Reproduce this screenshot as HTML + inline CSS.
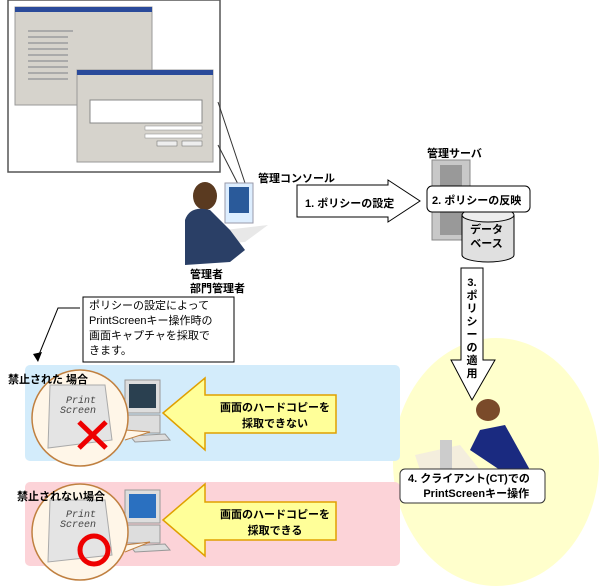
<!DOCTYPE html>
<html><head><meta charset="utf-8"><style>
body{margin:0;width:600px;height:586px;background:#fff;position:relative;overflow:hidden;font-family:"Liberation Sans","Noto Sans CJK JP",sans-serif;}
.a{position:absolute;white-space:nowrap}
.b{font-weight:bold;font-size:11px;color:#000}
</style></head><body>
<svg class="a" style="left:0;top:0" width="600" height="586">
<ellipse cx="496" cy="462" rx="103" ry="124" fill="#ffffcc"/>
<rect x="25" y="365" width="375" height="96" rx="5" fill="#d3ecfb"/>
<rect x="25" y="482" width="375" height="84" rx="5" fill="#fcd3d8"/>
<rect x="8" y="0" width="212" height="172" fill="#fff" stroke="#555" stroke-width="1.5"/>
<rect x="15" y="7" width="137" height="98" fill="#d6d3cc" stroke="#999"/>
<rect x="15" y="7" width="137" height="5" fill="#2a4a9a"/>
<g fill="#aaa"><rect x="28" y="30" width="45" height="2"/><rect x="28" y="36" width="40" height="2"/><rect x="28" y="42" width="40" height="2"/><rect x="28" y="48" width="40" height="2"/><rect x="28" y="54" width="40" height="2"/><rect x="28" y="60" width="40" height="2"/><rect x="28" y="66" width="40" height="2"/><rect x="28" y="72" width="40" height="2"/><rect x="28" y="78" width="40" height="2"/></g>
<rect x="77" y="70" width="136" height="92" fill="#d6d3cc" stroke="#999"/>
<rect x="77" y="70" width="136" height="5" fill="#2a4a9a"/>
<rect x="90" y="100" width="112" height="23" fill="#fff" stroke="#888"/>
<rect x="145" y="126" width="57" height="4" fill="#fff" stroke="#888" stroke-width=".5"/>
<rect x="145" y="134" width="57" height="4" fill="#fff" stroke="#888" stroke-width=".5"/>
<rect x="157" y="141" width="20" height="5" fill="#eee" stroke="#666" stroke-width=".5"/>
<rect x="182" y="141" width="20" height="5" fill="#eee" stroke="#666" stroke-width=".5"/>
<line x1="218" y1="102" x2="246" y2="186" stroke="#333"/>
<line x1="218" y1="145" x2="240" y2="188" stroke="#333"/>
<rect x="225" y="183" width="28" height="40" fill="#ddeeff" stroke="#99a"/>
<rect x="229" y="187" width="20" height="26" fill="#2a5a9a"/>
<polygon points="225,230 268,225 245,242 205,245" fill="#e8e8e8"/>
<ellipse cx="205" cy="196" rx="12" ry="14" fill="#5a3a20"/>
<path d="M185 265 L185 220 Q190 205 210 210 L230 230 L245 250 L230 262 Z" fill="#2a3f66"/>
<rect x="83" y="297" width="151" height="65" fill="#fff" stroke="#000"/>
<polyline points="80,308 58,308 38,357" fill="none" stroke="#000"/>
<polygon points="33,354 38,362 42,352" fill="#000"/>
<polygon points="297,185 388,185 388,180 420,201 388,222 388,217 297,217" fill="#fff" stroke="#000"/>
<rect x="432" y="160" width="38" height="80" fill="#c8c8c8" stroke="#888"/>
<rect x="440" y="165" width="22" height="70" fill="#999"/>
<path d="M462 215 L462 255 A26 7 0 0 0 514 255 L514 215 Z" fill="#e0e0e0" stroke="#000"/>
<ellipse cx="488" cy="215" rx="26" ry="7" fill="#eee" stroke="#000"/>
<rect x="427" y="186" width="103" height="26" rx="5" fill="#fff" stroke="#000"/>
<polygon points="461,268 483,268 483,360 495,360 472,400 451,360 461,360" fill="#fff" stroke="#000"/>
<polygon points="415,455 460,445 480,470 420,470" fill="#f4eedd"/>
<rect x="440" y="440" width="12" height="30" fill="#ccc"/>
<ellipse cx="488" cy="410" rx="12" ry="11" fill="#7a4a2a"/>
<path d="M480 430 L505 425 L530 470 L500 470 L470 450 Z" fill="#1a2a80"/>
<polygon points="163,413 205,378 205,395 336,395 336,433 205,433 205,450" fill="#ffff99" stroke="#e0a000" stroke-width="1.5"/>
<polygon points="163,520 205,484 205,502 336,502 336,540 205,540 205,556" fill="#ffff99" stroke="#e0a000" stroke-width="1.5"/>
<rect x="125" y="380" width="35" height="33" fill="#ddd" stroke="#999"/><rect x="129" y="384" width="27" height="24" fill="#2a4050"/>
<rect x="125" y="415" width="35" height="18" fill="#ddd" stroke="#999"/><polygon points="130,436 165,434 170,440 135,442" fill="#ddd" stroke="#999"/>
<rect x="125" y="490" width="35" height="33" fill="#ddd" stroke="#999"/><rect x="129" y="494" width="27" height="24" fill="#2a70c0"/>
<rect x="125" y="525" width="35" height="18" fill="#ddd" stroke="#999"/><polygon points="130,546 165,544 170,550 135,552" fill="#ddd" stroke="#999"/>
<path d="M125 440 L150 432 L125 430" fill="#fff6e8" stroke="#c08040"/>
<circle cx="80" cy="418" r="48" fill="#fff6e8" stroke="#c08040" stroke-width="1.5"/>
<polygon points="50,385 105,385 112,440 48,448" fill="#e4e4e4" stroke="#aaa"/>
<path d="M125 552 L150 542 L125 545" fill="#fff6e8" stroke="#c08040"/>
<circle cx="80" cy="532" r="48" fill="#fff6e8" stroke="#c08040" stroke-width="1.5"/>
<polygon points="50,500 105,500 112,555 48,562" fill="#e4e4e4" stroke="#aaa"/>
<line x1="79" y1="422" x2="106" y2="448" stroke="#e00" stroke-width="5"/>
<line x1="106" y1="422" x2="79" y2="448" stroke="#e00" stroke-width="5"/>
<circle cx="94" cy="550" r="14" fill="none" stroke="#e00" stroke-width="5"/>
<rect x="400" y="469" width="145" height="34" rx="5" fill="#fff" stroke="#333"/>
</svg>
<div class="a" style="left:60px;top:397px;font:italic 10px 'Liberation Mono',monospace;color:#444;line-height:10px">&nbsp;Print<br>Screen</div>
<div class="a" style="left:60px;top:511px;font:italic 10px 'Liberation Mono',monospace;color:#444;line-height:10px">&nbsp;Print<br>Screen</div>
<div class="a b" style="left:258px;top:170px">管理コンソール</div>
<div class="a b" style="left:190px;top:268px;line-height:14px">管理者<br>部門管理者</div>
<div class="a b" style="left:305px;top:195px">1. ポリシーの設定</div>
<div class="a b" style="left:427px;top:145px">管理サーバ</div>
<div class="a b" style="left:432px;top:192px">2. ポリシーの反映</div>
<div class="a b" style="left:470px;top:223px;line-height:14px;text-align:center">データ<br>ベース</div>
<div class="a b" style="left:465px;top:277px;width:14px;line-height:13px;text-align:center">3.<br>ポ<br>リ<br>シ<br>ー<br>の<br>適<br>用</div>
<div class="a" style="left:89px;top:299px;font-size:11px;line-height:15px">ポリシーの設定によって<br>PrintScreenキー操作時の<br>画面キャプチャを採取で<br>きます。</div>
<div class="a b" style="left:8px;top:371px">禁止された 場合</div>
<div class="a b" style="left:17px;top:488px">禁止されない場合</div>
<div class="a b" style="left:215px;top:400px;width:120px;text-align:center;line-height:16px">画面のハードコピーを<br>採取できない</div>
<div class="a b" style="left:215px;top:507px;width:120px;text-align:center;line-height:16px">画面のハードコピーを<br>採取できる</div>
<div class="a b" style="left:405px;top:472px;width:138px;line-height:15px">&nbsp;4. クライアント(CT)での<br>&nbsp;&nbsp;&nbsp;&nbsp;&nbsp;&nbsp;PrintScreenキー操作</div>
</body></html>
